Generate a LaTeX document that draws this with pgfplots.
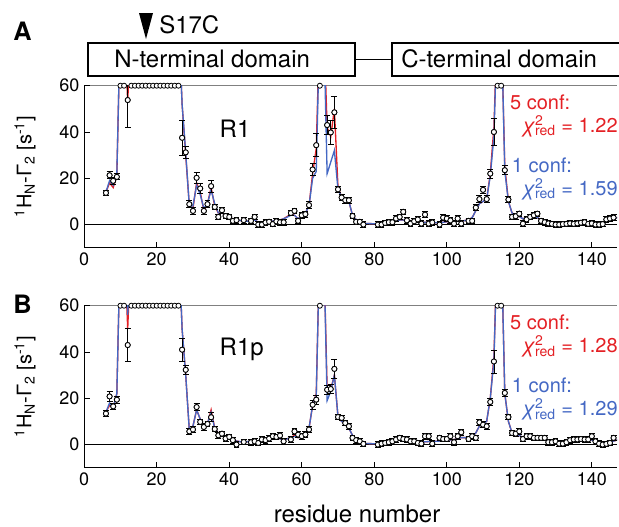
\documentclass[border=0pt]{standalone}
\usepackage{pgfplots}
\pgfplotsset{compat=1.18}
\usepackage{pgfplotstable}
\usepackage{fontspec}
\setmainfont{TeX Gyre Heros}

\definecolor{fitred}{RGB}{228,32,36}
\definecolor{fitblue}{RGB}{68,104,196}

% R1: measured data (residue, value, error)
\pgfplotstableread{
x y err
6 13.7 1.2
7 21.3 1.5
8 18.9 1.5
9 20.6 1.3
12 53.8 12
27 37.5 7.5
28 31.2 2.5
29 8.8 1.5
30 5.9 1.5
31 20.2 2.2
32 15.6 2.0
33 5.9 1.5
34 8.8 1.5
35 16.6 2.5
36 7.6 1.2
37 3.3 1.2
38 6.2 1.2
39 3.7 1.2
40 3.3 1.2
41 1.6 1.2
42 1.9 1.2
44 1.9 1.2
46 1.6 1.2
47 3.3 1.2
48 0.0 1.2
49 0.0 1.2
50 0.9 1.2
51 1.2 1.2
52 0.2 1.2
53 1.4 1.2
54 1.0 1.2
55 1.0 1.2
57 5.0 1.2
58 5.9 1.2
59 1.6 1.2
60 4.0 1.2
61 4.5 1.2
62 8.4 1.5
63 23.8 2.5
64 34.3 5
67 43.0 4
68 39.8 5
69 48.5 7
70 15.2 1.5
71 11.7 1.2
72 10.5 1.2
73 10.5 1.2
74 3.7 1.2
75 1.2 1.2
76 1.2 1.2
77 0.0 1.2
81 0.0 1.2
82 0.0 1.2
83 0.7 1.2
84 1.0 1.2
85 1.0 1.2
86 2.6 1.2
87 3.3 1.2
88 5.5 1.2
89 1.8 1.2
90 0.4 1.2
91 1.4 1.2
92 2.2 1.2
93 0.4 1.2
94 4.3 1.2
95 0.4 1.2
96 0.9 1.2
98 0.0 1.2
99 3.0 1.2
100 2.6 1.2
101 1.8 1.2
102 0.4 1.2
103 2.6 1.2
104 0.4 1.2
106 1.6 1.2
107 1.6 1.2
108 7.3 1.2
109 11.0 1.5
110 15.0 1.5
111 11.0 1.5
112 22.0 2
113 40.0 6
116 23.5 2
117 10.8 1.2
118 3.3 1.2
119 3.6 1.2
120 4.7 1.2
121 0.4 1.2
122 2.2 1.2
123 3.3 1.2
124 4.0 1.2
125 4.7 1.2
126 1.6 1.2
127 1.0 1.2
128 0.5 1.2
129 0.3 1.2
130 0.0 1.2
131 0.0 1.2
132 0.2 1.2
133 0.3 1.2
134 0.5 1.2
135 0.3 1.2
136 0.5 1.2
137 0.8 1.2
138 1.0 1.2
139 0.3 1.2
140 0.5 1.2
141 0.0 1.2
142 0.0 1.2
143 0.2 1.2
144 2.2 1.2
145 2.6 1.2
146 3.0 1.2
}\datA

% R1: back-calculated values, 5 conformers (red) and 1 conformer (blue)
\pgfplotstableread{
x red blue
6 14 14
7 18 19
8 16 17
9 21 22
10 90 90
11 90 90
12 53 60
13 90 90
14 90 90
15 90 90
16 90 90
17 90 90
18 90 90
19 90 90
20 90 90
21 90 90
22 90 90
23 90 90
24 90 90
25 90 90
26 90 90
27 52 52
28 30 31
29 8 8
30 7 8
31 18 17
32 14 13
33 6 7
34 9 9
35 16 15
36 8 9
37 5 5
38 5 5
39 4 4
40 3 3
41 2.5 2.5
42 2 2
44 1.5 1.5
46 1.5 1.5
47 2 2
48 1 1
49 1 1
50 1.2 1.2
51 1.5 1.5
52 1.5 1.5
53 2 2
54 2 2
55 2.5 2.5
57 4.5 4
58 4 4
59 2.5 2.5
60 3.5 3.5
61 5 5
62 8 8
63 22 20
64 33 23
65 90 90
66 90 90
67 42 22
68 38 27
69 50 32
70 16 15
71 12 12
72 11 10.5
73 10 10
74 4 4
75 2 2
76 1.5 1.5
77 0.5 0.5
81 0.3 0.3
82 0.3 0.3
83 0.5 0.5
84 0.7 0.7
85 1 1
86 1.5 1.5
87 2 2
88 2 2
89 1.5 1.5
90 1.2 1.2
91 1 1
92 1 1
93 1 1
94 1 1
95 0.8 0.8
96 0.8 0.8
98 0.8 0.8
99 1 1
100 1.2 1.2
101 1.2 1.2
102 1.2 1.2
103 1.5 1.5
104 1.5 1.5
106 2 2
107 3 3
108 6 6
109 9 9
110 10 10
111 11 11
112 22 21
113 42 38
114 90 90
115 90 90
116 25 23
117 10 10
118 5 5
119 4 4
120 3.5 3.5
121 2.5 2.5
122 3 3
123 3.5 3.5
124 3.5 3.5
125 3 3
126 2 2
127 1.5 1.5
128 0.8 0.8
130 0.7 0.7
132 0.7 0.7
134 0.8 0.8
136 0.8 0.8
138 0.9 0.9
140 0.8 0.8
142 0.8 0.8
143 1 1
144 1.5 1.5
145 2 2
146 2.5 2.5
147 3 3
}\fitA

% R1p: measured data
\pgfplotstableread{
x y err
6 13.4 1.2
7 20.8 2
8 16.5 1.5
9 19.4 1.5
12 43.0 7
27 41.0 5
28 32.3 2
29 5.7 1.2
30 6.5 1.2
31 16.2 1.5
32 9.8 1.2
33 7.6 1.5
34 8.9 1.2
35 11.8 2
36 6.7 1.2
37 4.0 1.2
38 4.7 1.2
39 2.6 1.2
40 3.3 1.2
41 1.9 1.2
42 0.0 1.2
44 1.1 1.2
46 1.0 1.2
47 1.4 1.2
48 0.7 1.2
49 2.2 1.2
50 1.9 1.2
51 2.6 1.2
52 3.6 1.2
53 3.3 1.2
54 3.9 1.2
55 1.4 1.2
57 2.2 1.2
58 5.7 1.2
59 4.3 1.2
60 3.6 1.2
61 4.3 1.2
62 6.5 1.2
63 17.2 2
64 19.4 2
67 23.7 2
68 24.0 2
69 32.7 4
70 11.9 1.2
71 11.5 1.2
72 9.3 1.2
73 7.9 1.2
74 2.9 1.2
75 1.9 1.2
76 1.4 1.2
77 0.3 1.2
81 0.0 1.2
82 0.4 1.2
83 0.7 1.2
84 1.0 1.2
85 1.4 1.2
86 2.2 1.2
87 2.9 1.2
88 2.4 1.2
89 2.2 1.2
90 1.4 1.2
91 1.4 1.2
92 0.7 1.2
93 0.4 1.2
94 3.6 1.2
95 3.6 1.2
96 0.4 1.2
98 2.9 1.2
99 2.4 1.2
100 2.4 1.2
101 3.6 1.2
102 1.0 1.2
103 3.6 1.2
104 5.3 1.2
106 2.4 1.2
107 3.6 1.2
108 2.9 1.2
109 9.6 1.2
110 8.6 1.2
111 7.9 1.2
112 18.4 1.5
113 35.9 5
116 22.3 1.5
117 11.9 1.2
118 5.0 1.2
119 4.7 1.2
120 5.7 1.2
121 2.4 1.2
122 3.6 1.2
123 3.6 1.2
124 2.9 1.2
125 2.9 1.2
126 2.9 1.2
127 2.9 1.2
128 1.0 1.2
129 1.0 1.2
130 1.4 1.2
131 0.4 1.2
132 0.4 1.2
133 1.0 1.2
134 1.9 1.2
135 2.2 1.2
136 2.2 1.2
137 2.4 1.2
138 2.2 1.2
139 2.2 1.2
140 3.6 1.2
141 1.4 1.2
142 0.4 1.2
143 0.0 1.2
144 0.3 1.2
145 0.7 1.2
146 2.9 1.2
}\datB

% R1p: back-calculated values
\pgfplotstableread{
x red blue
6 14 14
7 17 18
8 16 16
9 22 22
10 90 90
11 90 90
12 50 56
13 90 90
14 90 90
15 90 90
16 90 90
17 90 90
18 90 90
19 90 90
20 90 90
21 90 90
22 90 90
23 90 90
24 90 90
25 90 90
26 90 90
27 50 50
28 30 30
29 6 6
30 8 8
31 15 15
32 11 11
33 8 8
34 9 9
35 15 14
36 7 7
37 5 5
38 4.5 4.5
39 3.5 3.5
40 3 3
41 2 2
42 1.5 1.5
44 1 1
46 1.5 1.5
47 1.5 1.5
48 1.5 1.5
49 2 2
50 2 2
51 2.5 2.5
52 3 3
53 3 3
54 2.5 2.5
55 2 2
57 3 3
58 4 3.5
59 3 3
60 3.5 3.5
61 4.5 4.5
62 7 7
63 17 17
64 22 21
65 90 90
66 90 90
67 24 19
68 24 23
69 30 30
70 12 12
71 10 10
72 9 9
73 7 7
74 4 4
75 2 2
76 1.2 1.2
77 0.5 0.5
81 0.3 0.3
82 0.5 0.5
83 0.8 0.8
84 1 1
85 1.5 1.5
86 2 2
87 2.5 2.5
88 2.5 2.5
89 2.5 2.5
90 2 2
91 1.5 1.5
92 1.2 1.2
93 1 1
94 1.2 1.2
95 1.3 1.3
96 1.3 1.3
98 1.5 1.5
99 1.8 1.8
100 2 2
101 2 2
102 2.2 2.2
103 2.5 2.5
104 3 3
106 3 3
107 3.5 3.5
108 5 5
109 8 8
110 9 9
111 10 10
112 20 20
113 38 36
114 90 90
115 90 90
116 22 22
117 10 10
118 5 5
119 4.5 4.5
120 4 4
121 3 3
122 3 3
123 3 3
124 3 3
125 2.5 2.5
126 2.5 2.5
127 2 2
128 1.5 1.5
129 1.2 1.2
130 1.2 1.2
131 1 1
132 1 1
133 1 1
134 1.5 1.5
135 1.8 1.8
136 2 2
137 2 2
138 2 2
139 2 2
140 2 2
141 1.5 1.5
142 1 1
143 0.8 0.8
144 0.8 0.8
145 1 1
146 1.5 1.5
147 2 2
}\fitB

\pgfplotsset{
  panel/.style={
    scale only axis, width=399.75pt, height=121.5pt,
    xmin=0, xmax=147, ymin=-10, ymax=60,
    axis x line*=bottom, axis y line*=left,
    axis line style={line width=0.8pt},
    xtick={0,20,...,140}, ytick={0,20,40,60},
    tick align=inside, major tick length=4pt,
    tick style={black, line width=0.6pt},
    extra y ticks={60}, extra y tick labels={},
    extra y tick style={grid=major, major grid style={gray, line width=0.8pt}},
    clip mode=individual,
    /pgf/number format/assume math mode=true,
    ticklabel style={font=\fontsize{13.5}{16}\selectfont},
    ylabel={\textsuperscript{1}H\textsubscript{N}-Γ\textsubscript{2} [s\textsuperscript{-1}]},
    ylabel style={at={(axis description cs:-0.111,0.5)}, anchor=center,
      font=\fontsize{15}{18}\selectfont},
  },
  fit/.style={no marks, line width=1pt},
  errs/.style={forget plot, only marks, mark=none,
    error bars/.cd, y dir=both, y explicit,
    error bar style={black, line width=0.6pt},
    error mark options={black, rotate=90, mark size=2.2pt, line width=0.6pt}},
  pts/.style={only marks, mark=*, mark size=1.9pt,
    mark options={fill=white, draw=black, line width=0.6pt}},
}

\newcommand{\chired}{\textit{χ}\rlap{\textsuperscript{2}}\textsubscript{red}}

\begin{document}
\begin{tikzpicture}

% domain header, in pixels of the 619x526 reference (y downwards)
\begin{scope}[x=0.75pt, y=-0.75pt]
\node[anchor=base west, inner sep=0, font=\fontsize{19}{22}\selectfont\bfseries] at (13,40) {A};
\fill (139,13) -- (153,13) -- (146,39) -- cycle;
\node[anchor=base west, inner sep=0, font=\fontsize{18}{22}\selectfont] at (159,33) {S17C};
\draw[line width=1.3pt] (88,43) rectangle (355,76);
\draw[line width=1.3pt] (355,59.5) -- (392,59.5);
\draw[line width=1.3pt] (392,43) rectangle (640,76);
\node[anchor=base west, inner sep=0, font=\fontsize{18}{22}\selectfont] at (114,67) {N-terminal domain};
\node[anchor=base west, inner sep=0, font=\fontsize{18}{22}\selectfont] at (401,67) {C-terminal domain};
\node[anchor=base west, inner sep=0, font=\fontsize{19}{22}\selectfont\bfseries] at (13,313) {B};
\end{scope}

% panel A
\begin{axis}[panel, at={(63.15pt,-64.275pt)}, anchor=north west]
\addplot[black, line width=0.6pt, no marks, forget plot] coordinates {(0,0) (147,0)};
\addplot[fit, fitred] table[x=x, y=red] {\fitA};
\addplot[fit, fitblue] table[x=x, y=blue] {\fitA};
\addplot[errs] table[x=x, y=y, y error=err] {\datA};
\addplot[pts] table[x=x, y=y] {\datA};
\addplot[pts] coordinates {(10,60) (11,60) (13,60) (14,60) (15,60) (16,60) (17,60)
  (18,60) (19,60) (20,60) (21,60) (22,60) (23,60) (24,60) (25,60) (26,60)
  (65,60) (114,60) (115,60)};
\node[anchor=west, inner sep=0, font=\fontsize{18}{22}\selectfont] at (axis cs:37.3,41.5) {R1};
\node[anchor=west, inner sep=0, text=fitred, font=\fontsize{15}{18}\selectfont] at (axis cs:117.4,52.9) {5 conf:};
\node[anchor=east, inner sep=0, text=fitred, font=\fontsize{15}{18}\selectfont] at (axis cs:147.2,42.5) {\chired{} = 1.22};
\node[anchor=west, inner sep=0, text=fitblue, font=\fontsize{15}{18}\selectfont] at (axis cs:117.9,25.6) {1 conf:};
\node[anchor=east, inner sep=0, text=fitblue, font=\fontsize{15}{18}\selectfont] at (axis cs:147.2,15.3) {\chired{} = 1.59};
\end{axis}

% panel B
\begin{axis}[panel, at={(63.15pt,-229.275pt)}, anchor=north west,
  xlabel={residue number},
  xlabel style={at={(axis description cs:0.512,-0.286)}, anchor=center,
    font=\fontsize{18}{22}\selectfont}]
\addplot[black, line width=0.6pt, no marks, forget plot] coordinates {(0,0) (147,0)};
\addplot[fit, fitred] table[x=x, y=red] {\fitB};
\addplot[fit, fitblue] table[x=x, y=blue] {\fitB};
\addplot[errs] table[x=x, y=y, y error=err] {\datB};
\addplot[pts] table[x=x, y=y] {\datB};
\addplot[pts] coordinates {(10,60) (11,60) (13,60) (14,60) (15,60) (16,60) (17,60)
  (18,60) (19,60) (20,60) (21,60) (22,60) (23,60) (24,60) (25,60) (26,60)
  (65,60) (114,60) (115,60)};
\node[anchor=west, inner sep=0, font=\fontsize{18}{22}\selectfont] at (axis cs:37.3,41.3) {R1p};
\node[anchor=west, inner sep=0, text=fitred, font=\fontsize{15}{18}\selectfont] at (axis cs:117.4,52.8) {5 conf:};
\node[anchor=east, inner sep=0, text=fitred, font=\fontsize{15}{18}\selectfont] at (axis cs:147.2,42.4) {\chired{} = 1.28};
\node[anchor=west, inner sep=0, text=fitblue, font=\fontsize{15}{18}\selectfont] at (axis cs:117.9,25.5) {1 conf:};
\node[anchor=east, inner sep=0, text=fitblue, font=\fontsize{15}{18}\selectfont] at (axis cs:147.2,15.2) {\chired{} = 1.29};
\end{axis}

\pgfresetboundingbox
\path[use as bounding box] (0pt,0pt) rectangle (464.25pt,-394.5pt);
\end{tikzpicture}
\end{document}
